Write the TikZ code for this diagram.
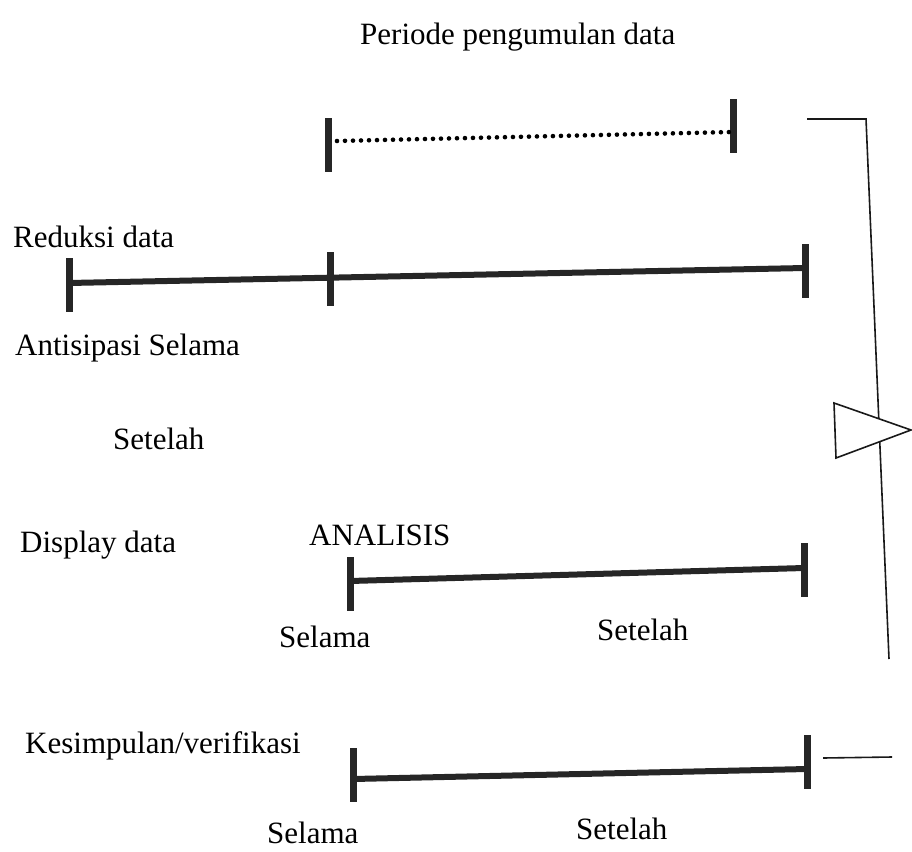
\documentclass[tikz,border=0pt]{standalone}
\usepackage{fontspec}
\setmainfont{Liberation Serif}
\usepackage{tikz}
\usetikzlibrary{calc}

\begin{document}
\begin{tikzpicture}[x=1pt,y=-1pt,
  tickmark/.style={line width=7pt,black!85},
  barline/.style={line width=6pt,black!85},
  thinline/.style={line width=1.6pt,black!90},
  lbl/.style={anchor=base west,inner sep=0pt,font=\fontsize{31}{36}\selectfont}]
\useasboundingbox (0,0) rectangle (912,851);

% title and dotted period
\node [lbl] (judul) at (360,45) {Periode pengumulan data};
\coordinate (p0) at (337,141);
\coordinate (p1) at (732,132);
\draw [tickmark] (328,118) -- (328,172);
\draw [tickmark] (733,99) -- (733,153);
\draw [line width=4.6pt,line cap=round,dash pattern=on 0pt off 8pt] (p0) -- (p1);

% reduksi data
\node [lbl] (reduksi) at (13,247) {Reduksi data};
\node [lbl] (antisipasi) at (15,355) {Antisipasi Selama};
\node [lbl] (setelah1) at (113,449) {Setelah};
\coordinate (r0) at (69,283);
\coordinate (r1) at (805,268);
\draw [barline] (r0) -- (r1);
\draw [tickmark] (69,258) -- (69,312);
\draw [tickmark] (330,252) -- (330,306);
\draw [tickmark] (805,244) -- (805,298);

% display data
\node [lbl] (display) at (20,552) {Display data};
\node [lbl] (analisis) at (309,545) {ANALISIS};
\node [lbl] (selama2) at (279,647) {Selama};
\node [lbl] (setelah2) at (597,640) {Setelah};
\coordinate (d0) at (350,581);
\coordinate (d1) at (804,568);
\draw [barline] (d0) -- (d1);
\draw [tickmark] (350,557) -- (350,611);
\draw [tickmark] (804,543) -- (804,597);

% kesimpulan
\node [lbl] (kesimpulan) at (25,753) {Kesimpulan/verifikasi};
\node [lbl] (selama3) at (267,843) {Selama};
\node [lbl] (setelah3) at (576,839) {Setelah};
\coordinate (k0) at (353,779);
\coordinate (k1) at (807,769);
\draw [barline] (k0) -- (k1);
\draw [tickmark] (353,748) -- (353,802);
\draw [tickmark] (807,735) -- (807,789);
\coordinate (s0) at (823,758);
\coordinate (s1) at (892,757);
\draw [thinline] (s0) -- (s1);

% bracket with triangle
\coordinate (b0) at (807,119);
\coordinate (b1) at (866,119);
\coordinate (b2) at (889,659);
\draw [thinline] (b0) -- (b1) -- (b2);
\draw [thinline,fill=white,line join=miter] (834,403) -- (911,430) -- (836,458) -- cycle;
\end{tikzpicture}
\end{document}
